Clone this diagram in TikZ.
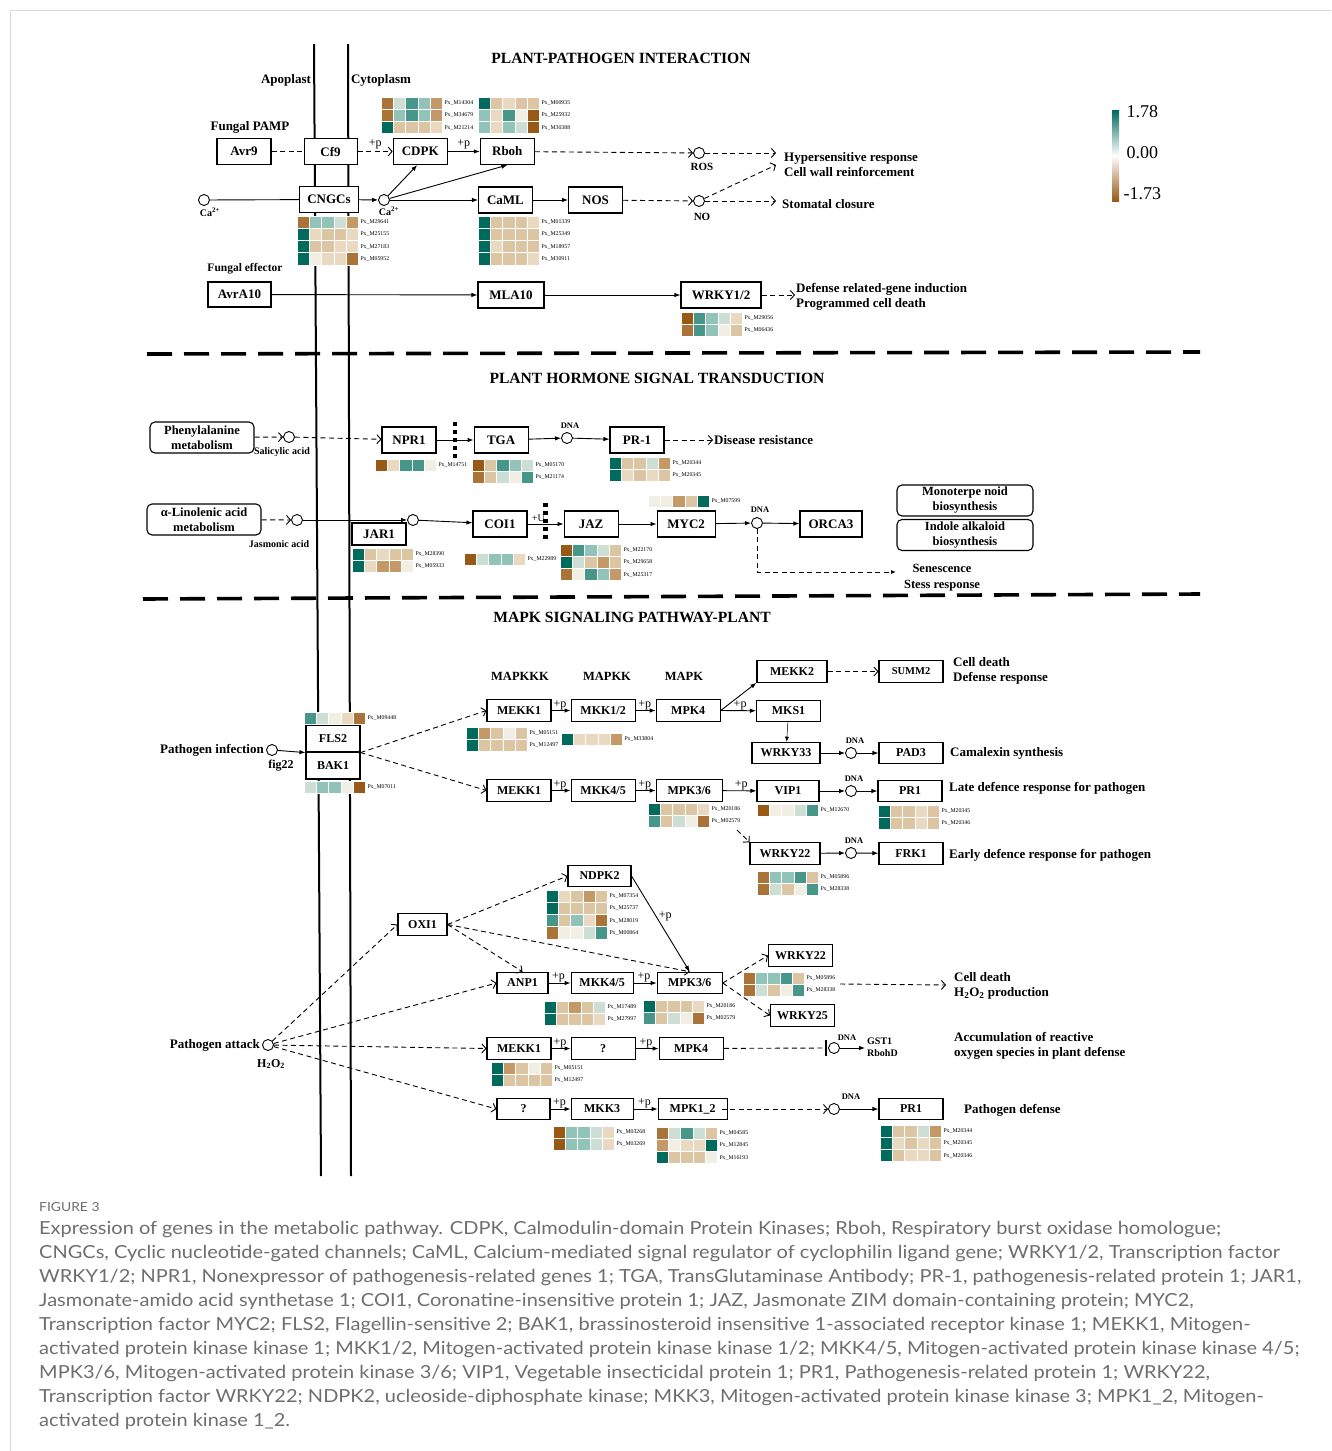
\documentclass[tikz,border=0pt]{standalone}
\usepackage{fontspec}
\setmainfont{Liberation Serif}
\newfontfamily\capfont[FakeStretch=1.11]{Lato}
\usetikzlibrary{positioning,arrows.meta,calc}

% heatmap colours, teal (up) to brown (down)
\definecolor{hmA}{RGB}{0,106,92}
\definecolor{hma}{RGB}{70,150,138}
\definecolor{hmb}{RGB}{145,195,185}
\definecolor{hmc}{RGB}{205,223,213}
\definecolor{hmw}{RGB}{241,238,228}
\definecolor{hmd}{RGB}{233,217,193}
\definecolor{hme}{RGB}{220,197,162}
\definecolor{hmf}{RGB}{196,152,103}
\definecolor{hmg}{RGB}{170,115,55}
\definecolor{hmG}{RGB}{152,88,22}
\definecolor{capgray}{RGB}{110,110,110}
\definecolor{framegray}{RGB}{218,218,218}

\newcommand{\bxfont}{\bfseries\fontsize{13}{15}\selectfont}
\newcommand{\mbfont}{\bfseries\fontsize{12}{14}\selectfont}

\tikzset{
  gene/.style={draw, fill=white, line width=1.1pt, font=\bxfont,
    minimum width=54pt, minimum height=26pt, inner sep=1pt},
  mbox/.style={gene, font=\mbfont, minimum width=64pt, minimum height=21.5pt},
  pathbox/.style={draw, fill=white, rounded corners=5pt, line width=1.1pt,
    align=center, font=\bfseries\fontsize{12.5}{15}\selectfont,
    minimum width=104pt, minimum height=31pt, inner sep=1pt},
  mol/.style={circle, draw, fill=white, line width=0.9pt,
    minimum size=11pt, inner sep=0pt},
  lab/.style={font=\bxfont, inner sep=1pt},
  small/.style={font=\bfseries\fontsize{10}{12}\selectfont, inner sep=1pt},
  dna/.style={font=\bfseries\fontsize{8.5}{9}\selectfont, inner sep=0.5pt},
  plus/.style={font=\fontsize{12}{12}\selectfont, inner sep=0.5pt},
  pxlab/.style={font=\fontsize{5.8}{6}\selectfont, anchor=west, inner sep=0.3pt},
  title/.style={font=\bfseries\fontsize{15.6}{17}\selectfont},
  act/.style={line width=0.9pt, -{Latex[length=6pt,width=4.5pt]}},
  ind/.style={line width=0.9pt, dash pattern=on 5pt off 3.5pt,
    -{Straight Barb[length=4pt,width=9pt]}},
  link/.style={line width=0.9pt, dash pattern=on 5pt off 3.5pt},
  membrane/.style={line width=2pt},
  section/.style={line width=3.6pt, dash pattern=on 25pt off 12pt},
  blockbar/.style={line width=4.5pt, dash pattern=on 4pt off 4pt},
}

% #1 name, #2 x, #3 y (top left), #4 rows of cells, #5 gene ids
\newcommand{\heatmap}[5]{%
  \foreach \hrow [count=\ri] in {#4}{
    \foreach \hcell [count=\cj] in \hrow{
      \filldraw[fill=hm\hcell, draw=white, line width=0.3pt]
        ({#2+(\cj-1)*12.3},{#3+(\ri-1)*12.2}) rectangle ++(12.3,12.2);
    }
  }
  \foreach \gid [count=\ri] in {#5}{
    \node[pxlab] (#1-\ri) at ({#2+63},{#3+(\ri-0.5)*12.2}) {Px\_\gid};
  }
}

\begin{document}
\begin{tikzpicture}[x=1pt, y=-1pt]
\useasboundingbox (0,0) rectangle (1331,1451);
\draw[framegray, line width=1pt] (10,1451) -- (10,10) -- (1331,10);

% membranes and section borders
\draw[membrane] (314,44) -- (321,1176);
\draw[membrane] (348,44) -- (351,1176);
\draw[section] (147,354) -- (1200,352);
\draw[section] (143,599) -- (1200,594);

\node[title] (t1) at (621,58) {PLANT-PATHOGEN INTERACTION};
\node[title] (t2) at (657,378) {PLANT HORMONE SIGNAL TRANSDUCTION};
\node[title] (t3) at (632,617) {MAPK SIGNALING PATHWAY-PLANT};

% colour key
\shade[top color=hmA, bottom color=hmG, middle color=white] (1112,110) rectangle (1119,201);
\node[font=\fontsize{18}{18}\selectfont, anchor=west] (kmax) at (1123,112) {1.78};
\node[font=\fontsize{18}{18}\selectfont, anchor=west] (kmid) at (1123,153) {0.00};
\node[font=\fontsize{18}{18}\selectfont, anchor=west] (kmin) at (1120,194) {-1.73};

%% plant-pathogen interaction
\node[lab] (apo) at (286,80) {Apoplast};
\node[lab] (cyto) at (381,80) {Cytoplasm};
\node[lab] (pamp) at (250,127) {Fungal PAMP};
\node[gene] (avr9) at (244,151.5) {Avr9};
\node[gene, minimum width=53pt, right=32pt of avr9] (cf9) {Cf9};
\node[gene, right=35pt of cf9] (cdpk) {CDPK};
\node[gene, right=32pt of cdpk] (rboh) {Rboh};
\node[gene, minimum width=59pt] (cngc) at (329,199.5) {CNGCs};
\node[gene] (caml) at (505.5,200) {CaML};
\node[gene, right=35pt of caml] (nos) {NOS};
\node[mol] (ca1) at (204,200) {};
\node[mol] (ca2) at (384,200) {};
\node[mol] (ros) at (699,153) {};
\node[mol] (no) at (699,201) {};
\node[small] (ca1l) at (210,212) {Ca\textsuperscript{2+}};
\node[small] (ca2l) at (389,211) {Ca\textsuperscript{2+}};
\node[small, font=\bfseries\fontsize{11}{12}\selectfont] (rosl) at (702,167) {ROS};
\node[small, font=\bfseries\fontsize{11}{12}\selectfont] (nol) at (702,217) {NO};
\node[lab, anchor=west, align=left] (hyper) at (783,165) {Hypersensitive response\\Cell wall reinforcement};
\node[lab, anchor=west] (stom) at (781,204) {Stomatal closure};
\coordinate (hr1) at (776,153);
\coordinate (hr2) at (776,165);
\coordinate (sc) at (776,201);
\node[lab, font=\bfseries\fontsize{11.5}{13}\selectfont] (feff) at (245,269) {Fungal effector};
\node[gene, minimum width=63pt, minimum height=25pt] (avra10) at (239.5,294.5) {AvrA10};
\node[gene, minimum width=66pt] (mla10) at (511,295) {MLA10};
\node[gene, minimum width=80pt] (wrky12) at (721,295) {WRKY1/2};
\node[lab, anchor=west, align=left] (defrel) at (795,297) {Defense related-gene induction\\Programmed cell death};
\coordinate (drin) at (795,295);

\heatmap{hcdpk}{381}{97}{{g,c,a,b,f},{g,b,a,b,f},{A,e,e,e,d}}{M14304,M34679,M21214}
\heatmap{hrboh}{478}{97}{{A,e,d,e,e},{b,d,a,w,G},{b,d,b,c,G}}{M00935,M25932,M30388}
\heatmap{hcngc}{297}{216}{{g,b,b,c,f},{A,d,e,e,d},{A,e,e,d,d},{A,w,d,d,g}}{M29641,M25155,M27183,M05952}
\heatmap{hcaml}{478}{216}{{A,e,e,e,d},{A,e,e,e,e},{A,d,e,e,e},{A,e,e,e,d}}{M01339,M25349,M18957,M30911}
\heatmap{hwrky}{681}{312}{{G,a,b,c,d},{g,a,b,w,e}}{M29056,M06436}

\path
(avr9) edge[link] (cf9)
(cf9) edge[ind] node[plus, above=1pt] {+p} (cdpk)
(cdpk) edge[act] node[plus, above=1pt] {+p} (rboh)
(rboh) edge[ind] (ros)
(ros) edge[ind] (hr1)
(no) edge[ind] (hr2)
(no) edge[ind] (sc)
(ca1) edge[line width=0.9pt] (cngc)
(cngc) edge[act] (ca2)
(ca2) edge[act] ([xshift=-3pt]cdpk.south)
(ca2) edge[act] (rboh.south)
(ca2) edge[act] (caml)
(caml) edge[act] (nos)
(nos) edge[ind] (no)
(avra10) edge[act] (mla10)
(mla10) edge[act] (wrky12)
(wrky12) edge[ind] (drin);

%% plant hormone signal transduction
\node[pathbox] (phe) at (202,437.5) {Phenylalanine\\metabolism};
\node[mol] (sa) at (289,437) {};
\node[small] (sal) at (282,452) {Salicylic acid};
\node[gene] (npr1) at (409,440) {NPR1};
\node[gene, right=37pt of npr1] (tga) {TGA};
\node[mol] (dna1) at (567,438) {};
\node[dna] (dna1l) at (570,426) {DNA};
\node[gene] (pr1) at (637,440) {PR-1};
\node[lab, anchor=west] (dis) at (713,440) {Disease resistance};

\node[pathbox, minimum width=114pt] (lin) at (204,519.5) {α-Linolenic acid\\metabolism};
\node[mol] (ja) at (297,520) {};
\node[small] (jal) at (279,544) {Jasmonic acid};
\node[mol] (jaile) at (413,520) {};
\node[gene, minimum height=22pt] (jar1) at (379,534) {JAR1};
\node[gene] (coi1) at (500,524) {COI1};
\node[gene, right=36pt of coi1] (jaz) {JAZ};
\node[gene, minimum width=58pt, right=38pt of jaz] (myc2) {MYC2};
\node[mol] (dna2) at (757,523) {};
\node[dna] (dna2l) at (760,510) {DNA};
\node[gene, minimum width=62pt] (orca3) at (831,524) {ORCA3};
\node[pathbox, minimum width=136pt] (mono) at (965,500.5) {Monoterpe noid\\biosynthesis};
\node[pathbox, minimum width=136pt] (indole) at (965,535) {Indole alkaloid\\biosynthesis};
\node[lab, align=center, font=\bfseries\fontsize{12.5}{16}\selectfont] (sen) at (942,578) {Senescence\\Stess response};
\coordinate (senin) at (896,572);

\heatmap{hnpr}{375}{459}{{G,d,a,a,w}}{M14751}
\heatmap{htga}{472}{459}{{G,e,a,b,c},{g,e,c,w,a}}{M05170,M21174}
\heatmap{hpr}{609}{457}{{A,e,e,c,f},{A,d,e,d,e}}{M20344,M20345}
\heatmap{hmyc}{648}{495}{{w,w,f,e,A}}{M07599}
\heatmap{hcoi}{464}{553}{{G,c,b,b,d}}{M22989}
\heatmap{hjaz}{560}{544}{{G,a,b,c,e},{A,c,e,f,e},{g,w,a,b,f}}{M22170,M29658,M25317}
\heatmap{hjar}{352}{548}{{A,e,d,e,e},{A,d,f,f,w}}{M28390,M05933}

\draw[blockbar] ($(npr1.east)!0.5!(tga.west)+(0,-18)$) -- ++(0,36);
\draw[blockbar] ($(coi1.east)!0.5!(jaz.west)+(0,-21)$) -- ++(0,38);

\path
(phe) edge[ind] (sa)
(sa) edge[ind] (npr1)
(npr1) edge[act] (tga)
(tga) edge[act] (dna1)
(dna1) edge[act] (pr1)
(pr1) edge[ind] (dis)
(lin) edge[ind] (ja)
(ja) edge[act] (jaile)
(jaile) edge[act] (coi1)
(coi1) edge[act] node[plus, above=1pt, pos=0.3, font=\fontsize{10}{10}\selectfont] {+U} (jaz)
(jaz) edge[act] (myc2)
(myc2) edge[act] (dna2)
(dna2) edge[act] (orca3);
\draw[line width=0.9pt, dash pattern=on 5pt off 3.5pt, -{Latex[length=5pt,width=4pt]}] (dna2) |- (senin);

%% MAPK signaling pathway
\node[lab, font=\bfseries\fontsize{12.5}{14}\selectfont] (mk3) at (520,676) {MAPKKK};
\node[lab, font=\bfseries\fontsize{12.5}{14}\selectfont] (mk2) at (607,676) {MAPKK};
\node[lab, font=\bfseries\fontsize{12.5}{14}\selectfont] (mk1) at (684,676) {MAPK};

\node[mbox, minimum width=54pt, minimum height=27pt] (fls2) at (333,738.5) {FLS2};
\node[mbox, minimum width=54pt, minimum height=27pt, below=-1.1pt of fls2] (bak1) {BAK1};
\node[lab, anchor=east] (pinf) at (265,750) {Pathogen infection};
\node[mol] (pinfc) at (272,750) {};
\node[lab, font=\bfseries\fontsize{12}{14}\selectfont] (fig22) at (281,766) {fig22};
\heatmap{hfls}{304}{712}{{a,c,w,d,g}}{M09448}
\heatmap{hbak}{304}{781}{{c,b,b,w,G}}{M07011}

\node[mbox] (mekka) at (519,710.5) {MEKK1};
\node[mbox, right=19pt of mekka] (mkka) {MKK1/2};
\node[mbox, right=20pt of mkka] (mpka) {MPK4};
\node[mbox, minimum width=70pt] (mekk2) at (792,671.5) {MEKK2};
\node[mbox, font=\bfseries\fontsize{10.5}{12}\selectfont] (summ2) at (911,671.5) {SUMM2};
\node[lab, anchor=west, align=left] (celld1) at (952,671) {Cell death\\Defense response};
\node[mbox] (mks1) at (788.5,711) {MKS1};
\node[mbox, minimum width=68pt] (wrky33) at (786,753) {WRKY33};
\node[mol] (dna3) at (851,753) {};
\node[dna] (dna3l) at (855,741) {DNA};
\node[mbox] (pad3) at (911,753) {PAD3};
\node[lab, anchor=west] (camal) at (949,753) {Camalexin synthesis};

\node[mbox] (mekkb) at (519,790.5) {MEKK1};
\node[mbox, right=19pt of mekkb] (mkkb) {MKK4/5};
\node[mbox, minimum width=66pt, right=20pt of mkkb] (mpkb) {MPK3/6};
\node[mbox, minimum width=62pt] (vip1) at (788,791) {VIP1};
\node[mol] (dna4) at (851,791) {};
\node[dna] (dna4l) at (854,779) {DNA};
\node[mbox] (pr1a) at (910,791) {PR1};
\node[lab, anchor=west] (late) at (948,788) {Late defence response for pathogen};
\node[mbox, minimum width=70pt] (wrky22a) at (785,853.5) {WRKY22};
\node[mol] (dna5) at (851,853) {};
\node[dna] (dna5l) at (854,841) {DNA};
\node[mbox] (frk1) at (911,853.5) {FRK1};
\node[lab, anchor=west] (early) at (948,855) {Early defence response for pathogen};
\coordinate (mpkbout) at (737,830);

\heatmap{hmekka}{466}{727}{{A,f,e,w,e},{A,e,e,e,e}}{M05151,M12497}
\heatmap{hmkka}{561}{733}{{A,d,d,d,f}}{M33804}
\heatmap{hmpkb}{648}{803}{{A,e,e,e,d},{a,e,c,w,g}}{M20186,M02579}
\heatmap{hvip}{757}{804}{{G,w,w,c,a}}{M12670}
\heatmap{hpra}{878}{805}{{A,e,e,d,e},{A,e,e,d,e}}{M20345,M20346}
\heatmap{hwrkya}{757}{871}{{g,b,b,a,e},{g,c,e,w,a}}{M05896,M28338}

\path
(pinfc) edge[act] (fls2.south west)
(fls2.south east) edge[ind] (mekka.west)
(fls2.south east) edge[ind] (mekkb.west)
(mekka) edge[act] node[plus, above=0pt, pos=0.45] {+p} (mkka)
(mkka) edge[act] node[plus, above=0pt, pos=0.45] {+p} (mpka)
(mpka.east) edge[act] (mekk2.south west)
(mpka.east) edge[act] node[plus, above=0pt, pos=0.55] {+p} (mks1)
(mekk2) edge[ind] (summ2)
(mks1) edge[line width=0.5pt, -{Latex[length=5pt,width=4pt]}] (wrky33)
(wrky33) edge[act] (dna3)
(dna3) edge[act] (pad3)
(mekkb) edge[act] node[plus, above=0pt, pos=0.45] {+p} (mkkb)
(mkkb) edge[act] node[plus, above=0pt, pos=0.45] {+p} (mpkb)
(mpkb) edge[act] node[plus, above=0pt, pos=0.55] {+p} (vip1)
(vip1) edge[act] (dna4)
(dna4) edge[act] (pr1a)
(mpkbout) edge[ind] (wrky22a.north west)
(wrky22a) edge[act] (dna5)
(dna5) edge[act] (frk1);

% oxidative burst branch
\node[mbox, minimum width=63pt] (ndpk2) at (599.5,876) {NDPK2};
\node[mbox, minimum width=49pt] (oxi1) at (422.5,924.5) {OXI1};
\node[lab, anchor=east] (patt) at (261,1045) {Pathogen attack};
\node[mol] (pattc) at (268,1045) {};
\node[lab, font=\bfseries\fontsize{12}{14}\selectfont] (h2o2a) at (271,1064) {H\textsubscript{2}O\textsubscript{2}};
\node[mbox, minimum width=51pt] (anp1) at (522.5,983) {ANP1};
\node[mbox, minimum width=62pt, right=22pt of anp1] (mkkc) {MKK4/5};
\node[mbox, minimum width=65pt, right=23pt of mkkc] (mpkc) {MPK3/6};
\node[mbox] (wrky22b) at (800.5,955.5) {WRKY22};
\node[mbox] (wrky25) at (802.5,1015.5) {WRKY25};
\coordinate (cdout) at (840,984);
\coordinate (cdin) at (946,985);
\node[lab, anchor=west, align=left] (celld2) at (953,986) {Cell death\\H\textsubscript{2}O\textsubscript{2} production};

\node[mbox] (mekkc) at (519,1048.5) {MEKK1};
\node[mbox, right=19pt of mekkc] (qa) {?};
\node[mbox, right=23pt of qa] (mpkd) {MPK4};
\coordinate (gbar) at (826,1048);
\node[mol] (dna6) at (834,1048) {};
\node[dna] (dna6l) at (847,1038) {DNA};
\coordinate (gstin) at (865,1048);
\node[small, anchor=west, align=left, font=\bfseries\fontsize{10}{12}\selectfont] (gst) at (866,1047) {GST1\\RbohD};
\node[lab, anchor=west, align=left] (accum) at (953,1046) {Accumulation of reactive\\oxygen species in plant defense};

\node[mbox, minimum width=53pt] (qb) at (523.5,1109) {?};
\node[mbox, minimum width=62pt, right=20pt of qb] (mkk3) {MKK3};
\node[mbox, minimum width=69pt, right=24pt of mkk3] (mpk12) {MPK1\_2};
\node[mol] (dna7) at (834,1109) {};
\node[dna] (dna7l) at (851,1097) {DNA};
\node[mbox] (pr1b) at (911,1109) {PR1};
\node[lab, anchor=west] (pdef) at (963,1110) {Pathogen defense};

\heatmap{hndpk}{546}{890}{{A,d,e,f,e},{A,e,e,e,e},{a,e,b,d,g},{g,w,w,c,a}}{M07354,M25737,M28019,M00864}
\heatmap{hmkkc}{544}{1001}{{A,e,f,e,c},{A,e,e,e,d}}{M17489,M27997}
\heatmap{hmpkc}{643}{1000}{{A,e,e,e,d},{a,e,c,w,g}}{M20186,M02579}
\heatmap{hwrkyb}{743}{972}{{g,b,b,a,e},{g,c,e,w,a}}{M05896,M28338}
\heatmap{hmekkc}{491}{1062}{{A,f,e,w,e},{A,e,e,e,e}}{M05151,M12497}
\heatmap{hmkk}{553}{1126}{{G,b,b,c,d},{G,b,b,c,d}}{M03268,M03269}
\heatmap{hmpk}{656}{1127}{{g,c,a,c,e},{f,w,d,d,A},{A,e,e,e,w}}{M04585,M12845,M16193}
\heatmap{hprb}{880}{1125}{{A,e,e,c,f},{A,d,e,d,e},{A,e,d,d,e}}{M20344,M20345,M20346}

\path
(pattc) edge[ind] (oxi1.west)
(pattc) edge[ind] (anp1.west)
(pattc) edge[ind] (mekkc.west)
(pattc) edge[ind] (qb.west)
(oxi1.east) edge[ind] (ndpk2.west)
(oxi1.east) edge[ind] (anp1.north)
(oxi1.east) edge[ind] (mpkc.north)
(ndpk2.east) edge[act] node[plus, right=2pt, pos=0.42] {+p} (mpkc.north)
(anp1) edge[act] node[plus, above=0pt, pos=0.45] {+p} (mkkc)
(mkkc) edge[act] node[plus, above=0pt, pos=0.45] {+p} (mpkc)
(mpkc.east) edge[ind] (wrky22b.west)
(mpkc.east) edge[ind] (wrky25.west)
(cdout) edge[ind] (cdin)
(mekkc) edge[act] node[plus, above=0pt, pos=0.45] {+p} (qa)
(qa) edge[act] node[plus, above=0pt, pos=0.45] {+p} (mpkd)
(mpkd) edge[link] (gbar)
(dna6) edge[act] (gstin)
(qb) edge[act] node[plus, above=0pt, pos=0.45] {+p} (mkk3)
(mkk3) edge[act] node[plus, above=0pt, pos=0.45] {+p} (mpk12)
([xshift=-6pt]mpk12.east) edge[ind] (dna7)
(dna7) edge[act] (pr1b);
\draw[line width=1.1pt] ([yshift=-8pt]gbar) -- ([yshift=8pt]gbar);

%% caption
\node[font=\capfont\fontsize{12.5}{14}\selectfont, text=capgray, anchor=base west, inner sep=0pt] (fig) at (39,1211) {FIGURE 3};
\node[font=\capfont\fontsize{18}{24}\selectfont, text=capgray, anchor=north west, align=left, inner sep=0pt] (caption) at (39,1221) {%
Expression of genes in the metabolic pathway. CDPK, Calmodulin-domain Protein Kinases; Rboh, Respiratory burst oxidase homologue;\\
CNGCs, Cyclic nucleotide-gated channels; CaML, Calcium-mediated signal regulator of cyclophilin ligand gene; WRKY1/2, Transcription factor\\
WRKY1/2; NPR1, Nonexpressor of pathogenesis-related genes 1; TGA, TransGlutaminase Antibody; PR-1, pathogenesis-related protein 1; JAR1,\\
Jasmonate-amido acid synthetase 1; COI1, Coronatine-insensitive protein 1; JAZ, Jasmonate ZIM domain-containing protein; MYC2,\\
Transcription factor MYC2; FLS2, Flagellin-sensitive 2; BAK1, brassinosteroid insensitive 1-associated receptor kinase 1; MEKK1, Mitogen-\\
activated protein kinase kinase 1; MKK1/2, Mitogen-activated protein kinase kinase 1/2; MKK4/5, Mitogen-activated protein kinase kinase 4/5;\\
MPK3/6, Mitogen-activated protein kinase 3/6; VIP1, Vegetable insecticidal protein 1; PR1, Pathogenesis-related protein 1; WRKY22,\\
Transcription factor WRKY22; NDPK2, ucleoside-diphosphate kinase; MKK3, Mitogen-activated protein kinase kinase 3; MPK1\_2, Mitogen-\\
activated protein kinase 1\_2.};
\end{tikzpicture}
\end{document}
